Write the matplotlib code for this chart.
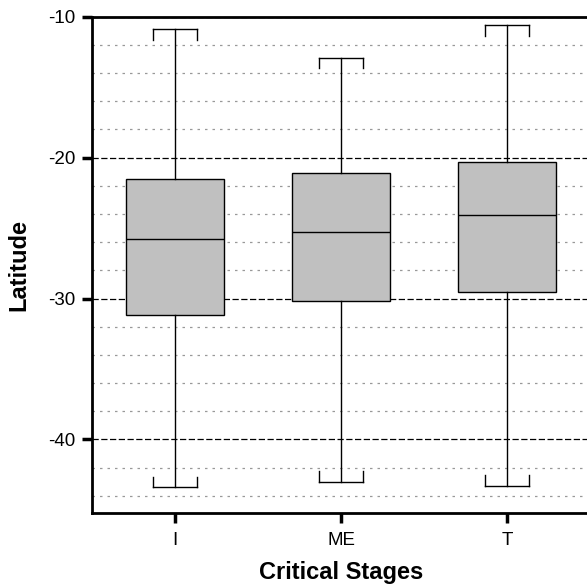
import numpy as np
import matplotlib.pyplot as plt
from matplotlib.ticker import MultipleLocator

plt.rcParams['font.family'] = ['Liberation Sans', 'DejaVu Sans']
plt.rcParams['axes.unicode_minus'] = False

# Box summary per critical stage (latitude, degrees)
stages = ['I', 'ME', 'T']
whisker_low = [-43.4, -43.0, -43.3]
q1 = [-31.2, -30.2, -29.5]
median = [-25.8, -25.3, -24.1]
q3 = [-21.5, -21.1, -20.3]
whisker_high = [-10.9, -12.9, -10.6]

stats = []
for i, name in enumerate(stages):
    stats.append({
        'label': name,
        'whislo': whisker_low[i],
        'q1': q1[i],
        'med': median[i],
        'q3': q3[i],
        'whishi': whisker_high[i],
        'fliers': [],
    })

fig = plt.figure(figsize=(5.87, 5.86), dpi=100)
ax = fig.add_axes([0.157, 0.125, 0.848, 0.8465])

pos = np.arange(len(stages))
cap_w = 0.265
ax.bxp(stats, positions=pos, widths=0.59,
       patch_artist=True, showfliers=False, capwidths=cap_w,
       boxprops=dict(facecolor='#c0c0c0', edgecolor='black', linewidth=1.0),
       medianprops=dict(color='black', linewidth=1.0),
       whiskerprops=dict(color='black', linewidth=1.0),
       capprops=dict(color='black', linewidth=1.0))

# bracket ends on the caps, turned toward the box
hook = 0.75
for p, lo, hi in zip(pos, whisker_low, whisker_high):
    for xe in (p - cap_w / 2, p + cap_w / 2):
        ax.plot([xe, xe], [hi, hi - hook], color='black', linewidth=1.0)
        ax.plot([xe, xe], [lo, lo + hook], color='black', linewidth=1.0)

ax.set_xlim(-0.5, 2.5)
ax.set_ylim(-45.2, -10)
ax.set_axisbelow(True)

# dashed major lines and dotted minor lines
ax.yaxis.set_major_locator(MultipleLocator(10))
ax.yaxis.set_minor_locator(MultipleLocator(2))
ax.grid(axis='y', which='major', color='black', linestyle=(0, (5, 2)), linewidth=0.9)
ax.grid(axis='y', which='minor', color='#999999', linestyle=(0, (2, 4)), linewidth=0.9)

ax.set_xticks(pos)
ax.set_xticklabels(stages, fontsize=13.5)
ax.tick_params(axis='y', which='major', direction='out', length=7, width=2.5, labelsize=13.5, pad=5)
ax.tick_params(axis='y', which='minor', length=0)
ax.tick_params(axis='x', direction='out', length=7, width=2.5, pad=7)

for side in ['left', 'bottom', 'top']:
    ax.spines[side].set_linewidth(2)
ax.spines['right'].set_visible(False)

ax.set_xlabel('Critical Stages', fontsize=17, fontweight='bold')
ax.set_ylabel('Latitude', fontsize=17, fontweight='bold')
ax.xaxis.set_label_coords(0.5, -0.097)
ax.yaxis.set_label_coords(-0.125, 0.5)

fig.savefig('out.png', dpi=100)
